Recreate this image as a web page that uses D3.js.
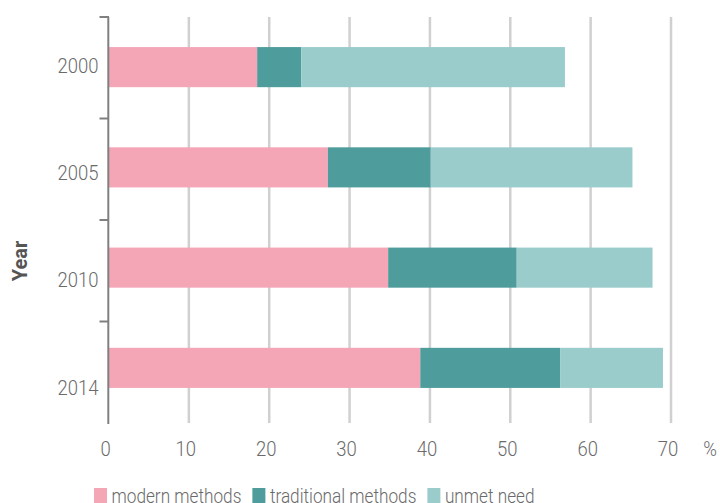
<!DOCTYPE html>
<html><head><meta charset="utf-8">
<script src="https://cdn.jsdelivr.net/npm/d3@7/dist/d3.min.js"></script>
<style>
body{margin:0;background:#fff;}
text{font-family:"Roboto","DejaVu Sans Condensed",sans-serif;}
</style></head>
<body>
<svg id="c" width="720" height="503"></svg>
<script>
const years = ["2000","2005","2010","2014"];
const seriesNames = ["modern methods","traditional methods","unmet need"];
const modern = [18.5, 27.3, 34.8, 38.8];
const traditional = [5.5, 12.8, 16.0, 17.4];
const unmet = [32.8, 25.1, 16.9, 12.8];
const xTicks = [0,10,20,30,40,50,60,70];
const colors = ["#f4a6b7","#4f9c9c","#9acccc"];

const SX = 0.88;   // horizontal condensing of light axis text
const SXL = 0.82;  // horizontal condensing of legend text
const svg = d3.select("#c");
const x = d3.scaleLinear().domain([0,70]).range([108.5,671]);
const yBar = d3.scaleBand().domain(years).range([17,418]).paddingInner(0.6).paddingOuter(0.3);
const yAxis = d3.scaleBand().domain(years).range([17,423]);
const yLab = d3.scalePoint().domain(years).range([72.5,394.5]);

function ltext(g, tx, ty, str, size, anchor, sx){
  return g.append("text").attr("transform",`translate(${tx},${ty}) scale(${sx||SX},1)`)
    .attr("text-anchor",anchor||"start").attr("font-size",size||21)
    .attr("font-weight",300).attr("fill","#6a6a6a").text(str);
}

// gridlines
svg.append("g").selectAll("line").data(xTicks.filter(d=>d>0)).join("line")
  .attr("x1",d=>x(d)).attr("x2",d=>x(d)).attr("y1",17).attr("y2",423)
  .attr("stroke","#d0d0d0").attr("stroke-width",2.5);

// stacked data
const rows = years.map((yr,i)=>({year:yr, "modern methods":modern[i], "traditional methods":traditional[i], "unmet need":unmet[i]}));
const stack = d3.stack().keys(seriesNames)(rows);
svg.append("g").selectAll("g").data(stack).join("g").attr("fill",(d,i)=>colors[i])
  .selectAll("rect").data(d=>d).join("rect")
  .attr("x",d=>x(d[0])).attr("width",d=>x(d[1])-x(d[0]))
  .attr("y",d=>yBar(d.data.year)).attr("height",yBar.bandwidth());

// y axis line and ticks (at band boundaries)
const axisG = svg.append("g");
axisG.append("line").attr("x1",108.3).attr("x2",108.3).attr("y1",yAxis.range()[0]).attr("y2",yAxis.range()[1]+1)
  .attr("stroke","#808080").attr("stroke-width",2);
axisG.selectAll("line.t").data(years).join("line").attr("class","t")
  .attr("x1",99.5).attr("x2",109).attr("y1",d=>yAxis(d)).attr("y2",d=>yAxis(d))
  .attr("stroke","#808080").attr("stroke-width",2);

// y labels
const yg = svg.append("g");
years.forEach(d=>ltext(yg, 98.5, yLab(d), d, 21, "end"));

// x labels
const xg = svg.append("g");
xTicks.forEach(d=>ltext(xg, x(d)-3, 455.5, String(d), 21, "middle"));
ltext(xg, 710, 455.5, "%", 21, "middle");

// Year title
svg.append("text").attr("transform","translate(27,261) rotate(-90)")
  .attr("text-anchor","middle").attr("font-size",20).attr("font-weight","bold")
  .attr("fill","#555").text("Year");

// legend
const leg = svg.append("g");
let lx = 94;
seriesNames.forEach((n,i)=>{
  leg.append("rect").attr("x",lx).attr("y",488).attr("width",13).attr("height",16).attr("fill",colors[i]);
  const t = ltext(leg, lx+17.5, 503, n, 21, "start", SXL);
  lx += 17.5 + t.node().getComputedTextLength()*SXL + 11;
});
</script>
</body></html>
